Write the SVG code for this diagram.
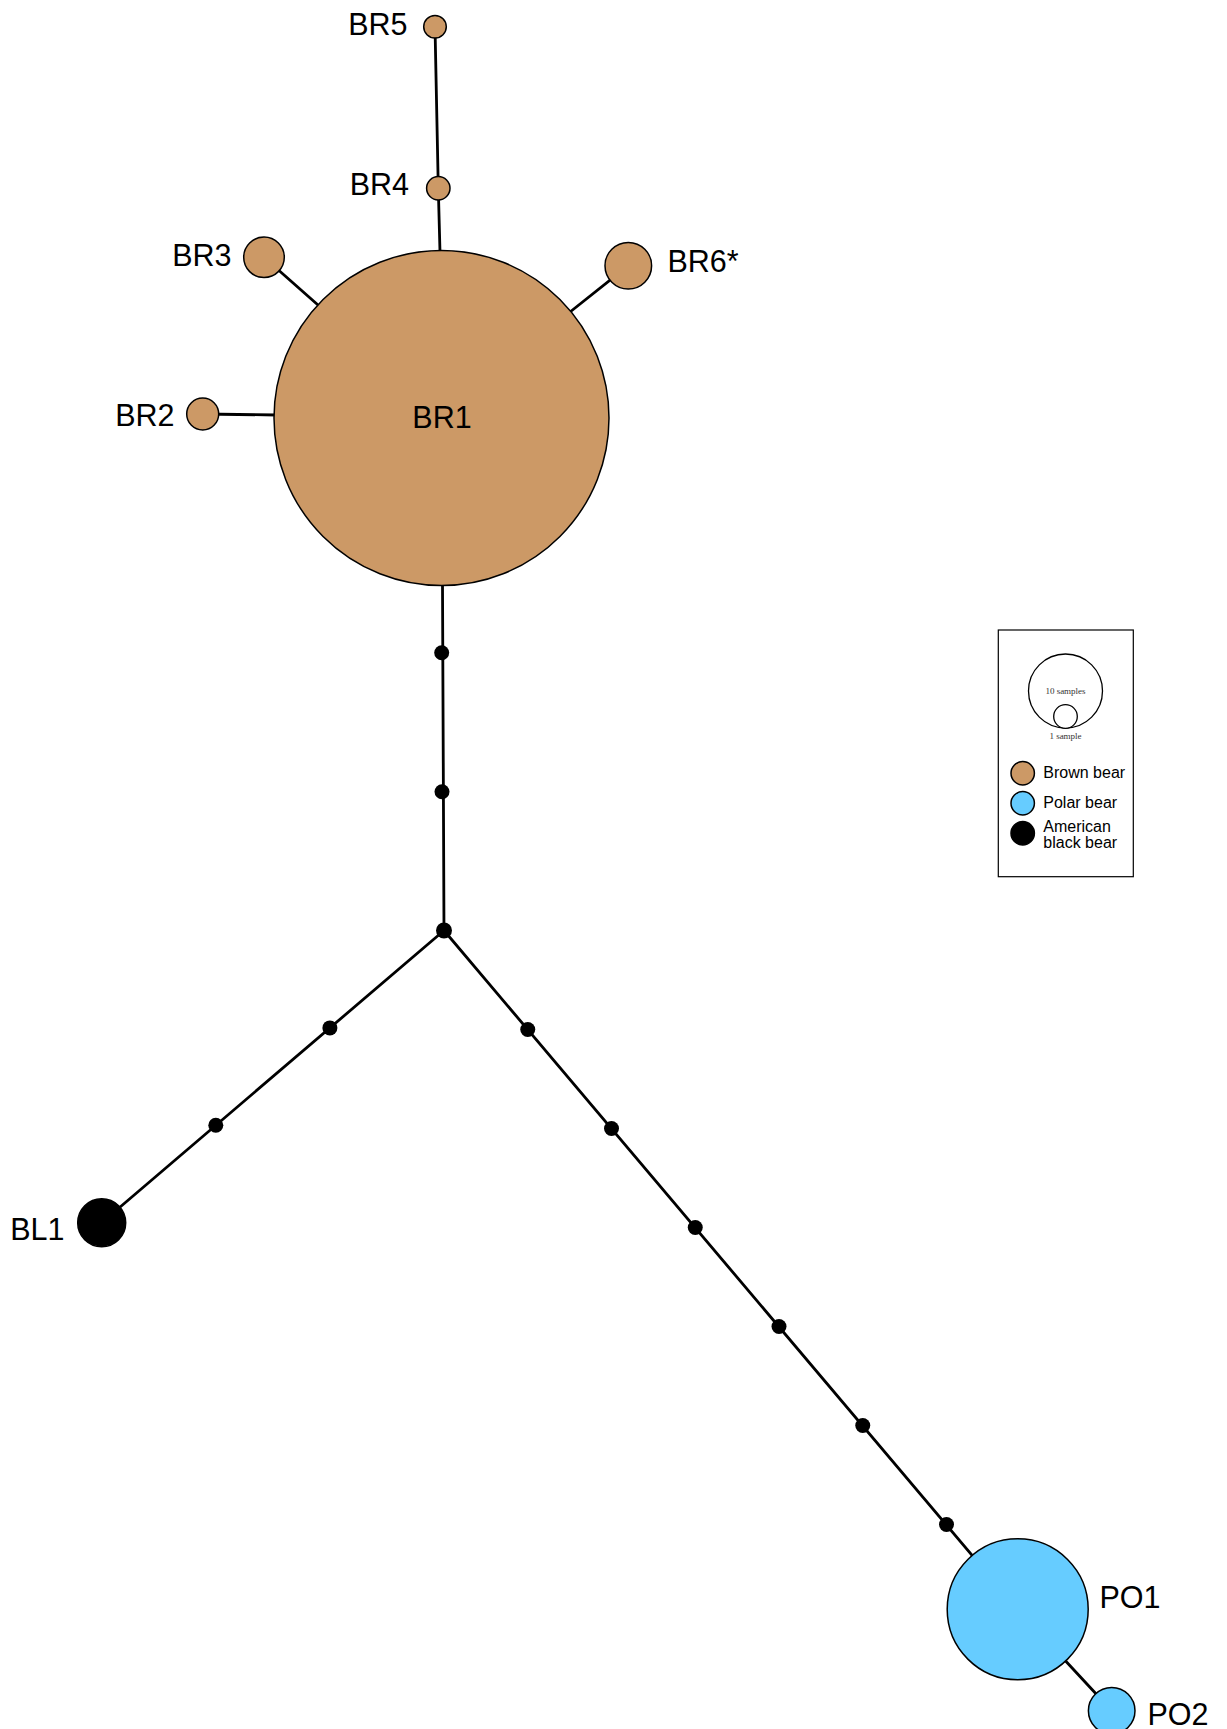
<svg xmlns="http://www.w3.org/2000/svg" width="1227" height="1729" viewBox="0 0 1227 1729">
<style>
.edge{stroke:#000;stroke-width:2.8;fill:none;stroke-linecap:round}
.br{fill:#CC9966;stroke:#000;stroke-width:1.5}
.po{fill:#66CCFF;stroke:#000;stroke-width:1.5}
.bl{fill:#000;stroke:#000;stroke-width:1.5}
.mv{fill:#000}
.lbl{font-family:"Liberation Sans",Arial,Helvetica,sans-serif;font-size:30.5px;fill:#000}
.leg{font-family:"Liberation Sans",Arial,Helvetica,sans-serif;font-size:16px;fill:#000}
.sm{font-family:"Liberation Serif","Times New Roman",serif;font-size:9px;fill:#333;text-anchor:middle}
</style>
<rect width="1227" height="1729" fill="#fff"/>
<g id="connectors">
<line class="edge" x1="435" y1="26.7" x2="438.3" y2="188.3"/>
<line class="edge" x1="438.3" y1="188.3" x2="440" y2="252"/>
<line class="edge" x1="264" y1="257.3" x2="318" y2="305"/>
<line class="edge" x1="628.3" y1="265.7" x2="570" y2="312"/>
<line class="edge" x1="202.7" y1="414" x2="276" y2="415"/>
<line class="edge" x1="442.5" y1="585" x2="444" y2="930.5"/>
<line class="edge" x1="444" y1="930.5" x2="101.7" y2="1222.7"/>
<line class="edge" x1="444" y1="930.5" x2="1017.7" y2="1609.3"/>
<line class="edge" x1="1017.7" y1="1609.3" x2="1111.7" y2="1710.7"/>
</g>
<g id="BR1"><circle class="br" cx="441.5" cy="418" r="167.5"/><text class="lbl" x="442" y="428" text-anchor="middle">BR1</text></g>
<g id="BR2"><circle class="br" cx="202.7" cy="414" r="16"/><text class="lbl" x="174.5" y="426" text-anchor="end">BR2</text></g>
<g id="BR3"><circle class="br" cx="264" cy="257.3" r="20.3"/><text class="lbl" x="231.5" y="266" text-anchor="end">BR3</text></g>
<g id="BR4"><circle class="br" cx="438.3" cy="188.3" r="11.7"/><text class="lbl" x="409" y="195" text-anchor="end">BR4</text></g>
<g id="BR5"><circle class="br" cx="435" cy="26.7" r="11.3"/><text class="lbl" x="407.5" y="35" text-anchor="end">BR5</text></g>
<g id="BR6"><circle class="br" cx="628.3" cy="265.7" r="23.3"/><text class="lbl" x="667.5" y="272">BR6*</text></g>
<g id="BL1"><circle class="bl" cx="101.7" cy="1222.7" r="24"/><text class="lbl" x="64.5" y="1240" text-anchor="end">BL1</text></g>
<g id="PO1"><circle class="po" cx="1017.7" cy="1609.3" r="70.5"/><text class="lbl" x="1099.5" y="1608">PO1</text></g>
<g id="PO2"><circle class="po" cx="1111.7" cy="1710.7" r="23.3"/><text class="lbl" x="1147.5" y="1725">PO2</text></g>
<g id="median-vectors">
<circle class="mv" cx="441.7" cy="652.7" r="7.5"/>
<circle class="mv" cx="442" cy="791.7" r="7.5"/>
<circle class="mv" cx="444" cy="930.5" r="8"/>
<circle class="mv" cx="329.9" cy="1027.9" r="7.5"/>
<circle class="mv" cx="215.8" cy="1125.3" r="7.5"/>
<circle class="mv" cx="527.75" cy="1029.5" r="7.5"/>
<circle class="mv" cx="611.5" cy="1128.5" r="7.5"/>
<circle class="mv" cx="695.25" cy="1227.5" r="7.5"/>
<circle class="mv" cx="779" cy="1326.5" r="7.5"/>
<circle class="mv" cx="862.75" cy="1425.5" r="7.5"/>
<circle class="mv" cx="946.5" cy="1524.5" r="7.5"/>
</g>
<g id="legend">
<rect x="998.3" y="630" width="135" height="246.7" fill="#fff" stroke="#000" stroke-width="1.2"/>
<circle cx="1065.5" cy="691" r="37" fill="none" stroke="#000" stroke-width="1.3"/>
<circle cx="1065.5" cy="716.5" r="11.8" fill="#fff" stroke="#000" stroke-width="1.3"/>
<text class="sm" x="1065.5" y="693.5">10 samples</text>
<text class="sm" x="1065.5" y="738.5">1 sample</text>
<circle class="br" cx="1022.7" cy="773.3" r="11.7" stroke-width="1"/>
<text class="leg" x="1043.3" y="778.3">Brown bear</text>
<circle class="po" cx="1022.7" cy="803.3" r="11.7" stroke-width="1"/>
<text class="leg" x="1043.3" y="808.3">Polar bear</text>
<circle class="bl" cx="1022.7" cy="833.3" r="11.7" stroke-width="1"/>
<text class="leg" x="1043.3" y="832">American</text>
<text class="leg" x="1043.3" y="847.5">black bear</text>
</g>
</svg>
